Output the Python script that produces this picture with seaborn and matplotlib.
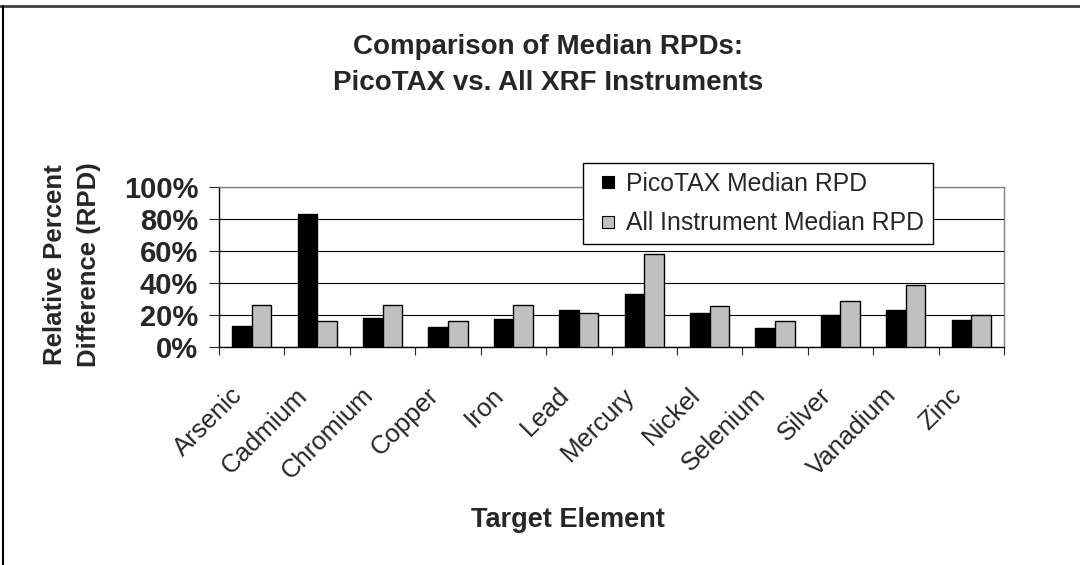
import pandas as pd
import seaborn as sns
import matplotlib.pyplot as plt
from matplotlib.lines import Line2D
from matplotlib.ticker import FixedLocator, FuncFormatter
from matplotlib.transforms import ScaledTranslation

# Datos (RPD mediana en %)
elementos = ['Arsenic', 'Cadmium', 'Chromium', 'Copper', 'Iron', 'Lead',
             'Mercury', 'Nickel', 'Selenium', 'Silver', 'Vanadium', 'Zinc']
picotax = [13.3, 82.9, 18.3, 12.5, 17.5, 23.1, 33.1, 21.5, 11.7, 20.0, 23.1, 16.7]
todos = [26.0, 16.5, 26.0, 16.5, 26.0, 21.3, 57.9, 25.4, 16.5, 28.8, 38.5, 19.8]
series = ['PicoTAX Median RPD', 'All Instrument Median RPD']
colores = ['black', '#C0C0C0']
y_ticks = [0, 20, 40, 60, 80, 100]

df = pd.DataFrame({
    'Elemento': elementos * 2,
    'Serie': [series[0]] * len(elementos) + [series[1]] * len(elementos),
    'RPD': picotax + todos,
})

sns.set_style('white')
plt.rcParams['font.family'] = ['Liberation Sans', 'DejaVu Sans']

fig = plt.figure(figsize=(10.8, 5.65), dpi=100)
ax = fig.add_axes([219 / 1080, 1 - 347 / 565, 785 / 1080, 160 / 565])

sns.barplot(data=df, x='Elemento', y='RPD', hue='Serie', order=elementos,
            hue_order=series, palette=dict(zip(series, colores)),
            width=0.6, edgecolor='black', linewidth=1, saturation=1,
            errorbar=None, ax=ax, zorder=3, legend=False)

# Ejes y rejilla
ax.set_xlim(-0.5, len(elementos) - 0.5)
ax.set_ylim(0, 100)
ax.set_yticks(y_ticks)
ax.yaxis.set_major_formatter(FuncFormatter(lambda v, p: f'{v:.0f}%'))
ax.yaxis.grid(True, color='black', linewidth=0.8, zorder=0)
ax.set_axisbelow(True)
for lado in ['left', 'bottom']:
    ax.spines[lado].set_color('black')
    ax.spines[lado].set_linewidth(1)
for lado in ['top', 'right']:
    ax.spines[lado].set_color('#808080')
    ax.spines[lado].set_linewidth(1)

ax.tick_params(axis='y', which='major', left=True, length=7, width=0.8,
               pad=8, labelsize=21)
for t in ax.get_yticklabels():
    t.set_fontweight('bold')

ax.xaxis.set_minor_locator(FixedLocator([i - 0.5 for i in range(len(elementos) + 1)]))
ax.tick_params(axis='x', which='minor', bottom=True, length=6, width=0.8)
ax.tick_params(axis='x', which='major', bottom=True, length=0, pad=26, labelsize=18.5)
plt.setp(ax.get_xticklabels(), rotation=45, ha='right', va='top')
for t in ax.get_xticklabels():
    t.set_transform(t.get_transform() + ScaledTranslation(-3.5 / 72, 0, fig.dpi_scale_trans))

# Etiquetas
ax.set_xlabel('Target Element', fontsize=19.5, fontweight='bold', va='top')
ax.xaxis.set_label_coords(0.4446, -1.0)
ax.set_ylabel('')
fig.text(72 / 1080, 1 - 265 / 565, 'Relative Percent\nDifference (RPD)',
         rotation=90, ha='center', va='center', fontsize=18.5,
         fontweight='bold', linespacing=1.5)

fig.text(548 / 1080, 1 - 65 / 565, 'Comparison of Median RPDs:\nPicoTAX vs. All XRF Instruments',
         ha='center', va='center', fontsize=20, fontweight='bold', linespacing=1.46)

# Leyenda
handles = [Line2D([], [], linestyle='', marker='s', markersize=8.6,
                  markerfacecolor=c, markeredgecolor='black', markeredgewidth=0.8)
           for c in colores]
leg = ax.legend(handles, series, loc='upper left', bbox_to_anchor=(583 / 1080, 1 - 163 / 565),
                bbox_transform=fig.transFigure, fontsize=17.8, frameon=True, fancybox=False,
                edgecolor='black', framealpha=1, numpoints=1, handlelength=1.32,
                handletextpad=0.05, borderpad=0.36, labelspacing=0.63, borderaxespad=0)
leg.get_frame().set_linewidth(1)
leg.set_zorder(5)

# Marco de la figura
fig.add_artist(Line2D([0, 1], [1 - 6 / 565, 1 - 6 / 565], color='#404040', linewidth=2,
                      transform=fig.transFigure))
fig.add_artist(Line2D([3 / 1080, 3 / 1080], [0, 1 - 6 / 565], color='black', linewidth=1.5,
                      transform=fig.transFigure))

fig.savefig('out.png', dpi=100)
